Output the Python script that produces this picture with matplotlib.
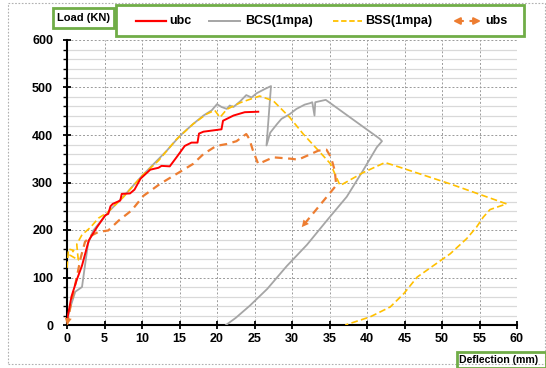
import matplotlib
matplotlib.use('Agg')
import matplotlib.pyplot as plt
from matplotlib.patches import Rectangle
from matplotlib.lines import Line2D

plt.rcParams['font.family'] = ['Liberation Sans', 'DejaVu Sans']
plt.rcParams['font.weight'] = 'bold'

# DATA (deflection mm, load kN)
ubc_x = [0, 0.6, 1.3, 2.0, 2.9, 4.0, 5.1, 5.5, 5.8, 6.1, 7.1, 7.3, 8.4, 9.0, 9.8, 11.1, 12.2, 12.6,
         13.7, 14.6, 15.7, 16.6, 17.4, 17.6, 18.2, 20.6, 20.8, 22.2, 23.7, 25.5]
ubc_y = [10, 60, 95, 125, 178, 206, 231, 234, 250, 255, 262, 276, 277, 285, 308, 327, 331, 335,
         334, 353, 377, 384, 384, 403, 407, 412, 430, 441, 448, 449]

bcs_x = [0, 0.3, 1.1, 2.0, 2.8, 3.5, 4.8, 5.7, 7.5, 10.0, 12.0, 13.3, 15.1, 16.8, 18.2, 19.3, 20.0,
         20.6, 21.3, 21.7, 22.2, 23.1, 23.9, 24.6, 25.3, 26.4, 27.2, 26.6, 27.1, 28.0, 28.6, 29.7,
         30.6, 31.7, 32.4, 32.7, 33.0, 33.1, 34.5, 41.7, 42.0, 41.3, 39.5, 37.3, 34.7, 32.0, 29.3,
         26.7, 24.4, 22.5, 21.2]
bcs_y = [5, 30, 70, 80, 171, 199, 224, 241, 270, 314, 346, 367, 399, 423, 441, 452, 465,
         459, 455, 462, 459, 471, 484, 479, 488, 497, 503, 378, 405, 423, 434, 444,
         455, 464, 467, 469, 441, 469, 474, 392, 387, 374, 326, 270, 221, 169, 124,
         76, 41, 15, 0]

bss_x = [0, 0.2, 0.9, 0.4, 1.5, 1.3, 2.0, 3.1, 4.2, 5.4, 7.5, 10.0, 12.2, 14.6, 16.8, 18.6, 19.7,
         20.4, 21.3, 23.1, 24.0, 25.3, 25.7, 27.5, 29.7, 31.5, 33.3, 35.1, 36.4, 36.8, 39.5, 42.4,
         44.4, 51.1, 58.6, 56.4, 55.5, 54.6, 53.3, 51.1, 46.7, 44.9, 43.1, 40.4, 37.1]
bss_y = [120, 160, 157, 147, 137, 170, 190, 205, 225, 237, 269, 314, 346, 391, 423, 444, 452,
         437, 454, 468, 473, 480, 482, 472, 437, 402, 371, 340, 294, 297, 321, 342,
         332, 297, 255, 243, 227, 206, 182, 150, 101, 66, 38, 17, 0]

ubs_x = [0, 0.6, 1.3, 1.8, 2.4, 3.2, 4.2, 5.5, 6.9, 8.6, 10.2, 12.4, 14.6, 16.8, 18.2, 19.9, 21.3,
         22.6, 23.9, 24.3, 24.8, 25.5, 27.5, 29.9, 30.8, 32.1, 33.5, 34.6, 35.2, 35.7, 35.9, 31.3]
ubs_y = [0, 50, 100, 140, 175, 188, 196, 199, 220, 241, 272, 297, 318, 339, 360, 377, 381,
         387, 402, 392, 367, 339, 353, 350, 348, 357, 367, 369, 353, 325, 294, 206]

names = ['ubc', 'BCS(1mpa)', 'BSS(1mpa)', 'ubs']
red, gray, gold, orange = '#FF0000', '#A5A5A5', '#FFC000', '#ED7D31'
green = '#70AD47'

# FIGURE
W, H = 546, 368
fig = plt.figure(figsize=(W / 100, H / 100), dpi=100)


def fx(px):
    return px / W


def fy(py):
    return 1 - py / H


ax = fig.add_axes([fx(67), fy(325), (517 - 67) / W, (325 - 40) / H])

ax.plot(bcs_x, bcs_y, color=gray, lw=1.3, zorder=3)
ax.plot(bss_x, bss_y, color=gold, lw=1.2, ls=(0, (4, 2)), zorder=3)
ax.plot(ubs_x, ubs_y, color=orange, lw=1.6, ls=(0, (3.5, 2.5)), zorder=4)
ax.plot(ubc_x, ubc_y, color=red, lw=1.4, zorder=5)

# arrow heads on both ends of ubs
for i0, i1 in [(-2, -1), (1, 0)]:
    ax.annotate('', xy=(ubs_x[i1], ubs_y[i1]), xytext=(ubs_x[i0], ubs_y[i0]),
                arrowprops=dict(arrowstyle='-|>,head_length=0.5,head_width=0.25',
                                color=orange, lw=0, shrinkA=0, shrinkB=0), zorder=6)

ax.set_xlim(0, 60)
ax.set_ylim(0, 600)
ax.set_xticks(range(0, 61, 5))
ax.set_yticks(range(0, 601, 100))
ax.set_yticks(range(0, 601, 20), minor=True)
ax.set_axisbelow(True)
ax.grid(which='minor', axis='y', color='#d9d9d9', lw=0.9, ls='-')
ax.grid(which='major', color='#9a9a9a', lw=0.7, ls=(0, (2, 2)))

for s in ['top', 'right']:
    ax.spines[s].set_visible(False)
for s in ['left', 'bottom']:
    ax.spines[s].set_linewidth(1.5)
ax.tick_params(which='major', direction='inout', length=6, width=1.3, labelsize=9)
ax.tick_params(axis='x', which='major', pad=3)
ax.tick_params(axis='y', which='major', pad=7)
ax.tick_params(axis='y', which='minor', direction='out', length=3, width=1.0)
for lab in ax.get_xticklabels() + ax.get_yticklabels():
    lab.set_fontweight('bold')

# outer dotted frame
fig.add_artist(Rectangle((fx(8), fy(364)), fx(545) - fx(8), fy(3) - fy(364), transform=fig.transFigure,
                         fill=False, ec='#b0b0b0', lw=0.8, ls=(0, (1.5, 1.5))))

# y label box
fig.add_artist(Rectangle((fx(53), fy(28)), fx(114) - fx(53), fy(8) - fy(28), transform=fig.transFigure,
                         fill=False, ec=green, lw=2))
fig.text(fx(83.5), fy(18), 'Load (KN)', fontsize=8, fontweight='bold', ha='center', va='center')

# legend box
fig.add_artist(Rectangle((fx(116), fy(36)), fx(524) - fx(116), fy(5) - fy(36), transform=fig.transFigure,
                         fill=False, ec=green, lw=2))
ly = fy(21)
fig.add_artist(Line2D([fx(136), fx(166)], [ly, ly], transform=fig.transFigure, color=red, lw=1.6))
fig.add_artist(Line2D([fx(209), fx(240)], [ly, ly], transform=fig.transFigure, color=gray, lw=1.4))
fig.add_artist(Line2D([fx(333), fx(362)], [ly, ly], transform=fig.transFigure, color=gold, lw=1.3,
                      ls=(0, (3, 1.5))))
fig.add_artist(Line2D([fx(457), fx(477)], [ly, ly], transform=fig.transFigure, color=orange, lw=1.5,
                      ls=(0, (3, 3))))
for x0, x1 in [(463, 453), (471, 481)]:
    fig.add_artist(plt.Annotation('', xy=(fx(x1), ly), xytext=(fx(x0), ly), xycoords='figure fraction',
                                  arrowprops=dict(arrowstyle='-|>,head_length=0.4,head_width=0.2',
                                                  color=orange, lw=1.5, shrinkA=0, shrinkB=0)))
for tx, name in zip([169, 245, 365, 485], names):
    fig.text(fx(tx), ly, name, fontsize=9, fontweight='bold', ha='left', va='center')

# x label box
fig.add_artist(Rectangle((fx(457), fy(368)), fx(546) - fx(457), fy(352) - fy(368), transform=fig.transFigure,
                         fill=False, ec=green, lw=2))
fig.text(fx(459), fy(360), 'Deflection (mm)', fontsize=7.6, fontweight='bold', ha='left', va='center')

fig.savefig('out.png', dpi=100)
